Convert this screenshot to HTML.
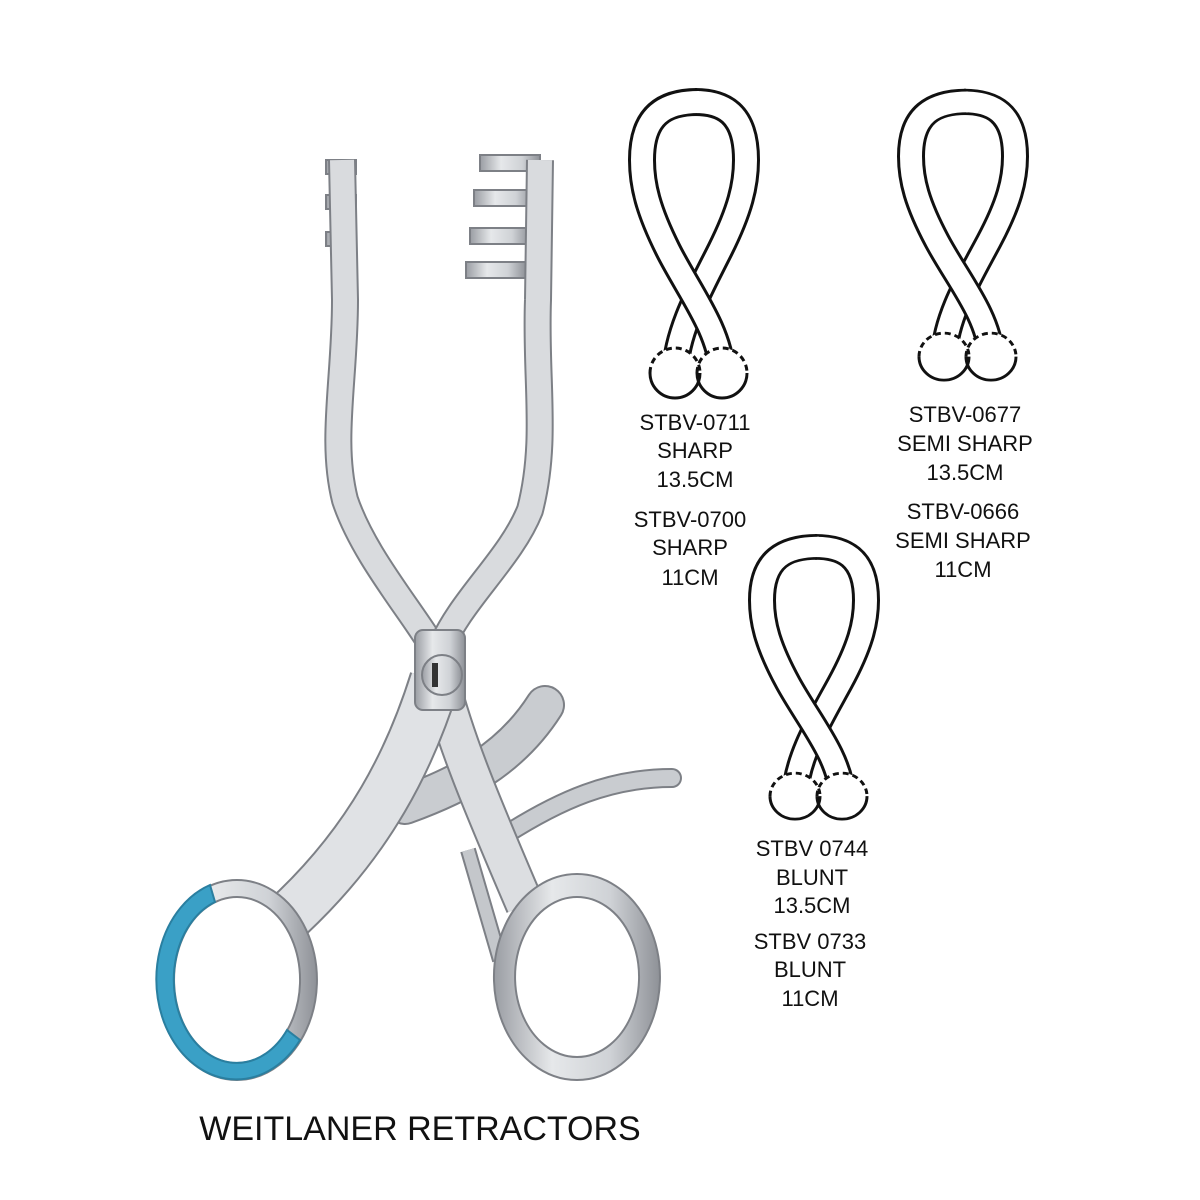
<!DOCTYPE html>
<html><head><style>
html,body{margin:0;padding:0;background:#fff;}
svg{display:block}
</style></head><body>
<svg width="1200" height="1200" viewBox="0 0 1200 1200" xmlns="http://www.w3.org/2000/svg">
<defs>
<linearGradient id="m" x1="0" y1="0" x2="1" y2="0">
<stop offset="0" stop-color="#9a9da3"/><stop offset="0.35" stop-color="#e6e8ea"/><stop offset="0.7" stop-color="#cfd2d6"/><stop offset="1" stop-color="#8e9197"/>
</linearGradient>
<g id="loop">
<path d="M675,372 C677,330 700,290 720,250 C740,210 746,185 746,160 C746,112 722,102 695,102" fill="none" stroke="#111" stroke-width="28"/>
<path d="M675,372 C677,330 700,290 720,250 C740,210 746,185 746,160 C746,112 722,102 695,102" fill="none" stroke="#fff" stroke-width="22"/>
<path d="M697,102 C665,102 642,115 642,160 C642,185 648,210 668,250 C688,290 720,330 722,372" fill="none" stroke="#111" stroke-width="28"/>
<path d="M699,102 C665,102 642,115 642,160 C642,185 648,210 668,250 C688,290 720,330 722,372" fill="none" stroke="#fff" stroke-width="22"/>
<circle cx="675" cy="373" r="25" fill="#fff"/>
<circle cx="722" cy="373" r="25" fill="#fff"/>
<path d="M650,373 A25,25 0 0 0 700,373" fill="none" stroke="#111" stroke-width="3"/>
<path d="M650,373 A25,25 0 0 1 700,373" fill="none" stroke="#111" stroke-width="3" stroke-dasharray="6,4"/>
<path d="M697,373 A25,25 0 0 0 747,373" fill="none" stroke="#111" stroke-width="3"/>
<path d="M697,373 A25,25 0 0 1 747,373" fill="none" stroke="#111" stroke-width="3" stroke-dasharray="6,4"/>
</g>
</defs>
<use href="#loop"/>
<use href="#loop" transform="translate(269,6) scale(1,0.94)"/>
<use href="#loop" transform="translate(120,453) scale(1,0.92)"/>

<g font-family="Liberation Sans, sans-serif" font-size="22" fill="#111" text-anchor="middle">
<text x="695" y="430">STBV-0711</text><text x="695" y="458">SHARP</text><text x="695" y="487">13.5CM</text>
<text x="690" y="527">STBV-0700</text><text x="690" y="555">SHARP</text><text x="690" y="585">11CM</text>
<text x="965" y="422">STBV-0677</text><text x="965" y="451">SEMI SHARP</text><text x="965" y="480">13.5CM</text>
<text x="963" y="519">STBV-0666</text><text x="963" y="548">SEMI SHARP</text><text x="963" y="577">11CM</text>
<text x="812" y="856">STBV 0744</text><text x="812" y="885">BLUNT</text><text x="812" y="913">13.5CM</text>
<text x="810" y="949">STBV 0733</text><text x="810" y="977">BLUNT</text><text x="810" y="1006">11CM</text>
<text x="420" y="1140" font-size="34">WEITLANER RETRACTORS</text>
</g>

<g stroke="#7d8086" stroke-width="2" fill="url(#m)">
<rect x="326" y="160" width="30" height="14"/><rect x="326" y="195" width="30" height="14"/><rect x="326" y="232" width="30" height="14"/>
<rect x="480" y="155" width="60" height="16"/><rect x="474" y="190" width="60" height="16"/><rect x="470" y="228" width="60" height="16"/><rect x="466" y="262" width="60" height="16"/>
</g>
<g fill="none" stroke-linecap="round">
<path d="M405,805 C460,785 510,760 545,705" stroke="#7d8086" stroke-width="40"/>
<path d="M405,805 C460,785 510,760 545,705" stroke="#c9ccd0" stroke-width="36"/>
<path d="M505,835 C560,800 610,778 672,778" stroke="#7d8086" stroke-width="20"/>
<path d="M505,835 C560,800 610,778 672,778" stroke="#c9ccd0" stroke-width="16"/>
</g>
<g fill="none" stroke-linejoin="round">
<path d="M342,160 L345,300 C345,380 330,440 345,500 C365,560 420,620 440,660" stroke="#7d8086" stroke-width="28"/>
<path d="M342,160 L345,300 C345,380 330,440 345,500 C365,560 420,620 440,660" stroke="#d9dbde" stroke-width="24"/>
<path d="M540,160 L538,300 C535,380 548,440 530,510 C510,560 460,600 440,650" stroke="#7d8086" stroke-width="28"/>
<path d="M540,160 L538,300 C535,380 548,440 530,510 C510,560 460,600 440,650" stroke="#d9dbde" stroke-width="24"/>
<path d="M440,680 C455,740 480,800 525,905" stroke="#7d8086" stroke-width="40"/>
<path d="M440,680 C455,740 480,800 525,905" stroke="#dcdee1" stroke-width="36"/>
<path d="M435,680 C410,760 370,840 290,915" stroke="#7d8086" stroke-width="52"/>
<path d="M435,680 C410,760 370,840 290,915" stroke="#e0e2e5" stroke-width="48"/>
<path d="M468,850 L500,960" stroke="#7d8086" stroke-width="16"/>
<path d="M468,850 L500,960" stroke="#c4c7cb" stroke-width="12"/>
</g>
<g stroke="#7d8086" stroke-width="2" fill="url(#m)">
<rect x="415" y="630" width="50" height="80" rx="8"/>
<circle cx="442" cy="675" r="20"/>
<path fill-rule="evenodd" d="M577,874 A83,103 0 1 1 576.9,874 Z M577,897 A62,80 0 1 0 577.1,897 Z"/>
<path fill-rule="evenodd" d="M237,880 A80,100 0 1 1 236.9,880 Z M237,897 A63,83 0 1 0 237.1,897 Z"/>
</g>
<rect x="432" y="663" width="6" height="24" fill="#333"/>
<path d="M210,885 A80,100 0 1 0 300,1040 L287,1030 A63,83 0 1 1 215,902 Z" fill="#3aa0c6" stroke="#2a7fa0" stroke-width="2"/>
</svg>
</body></html>
